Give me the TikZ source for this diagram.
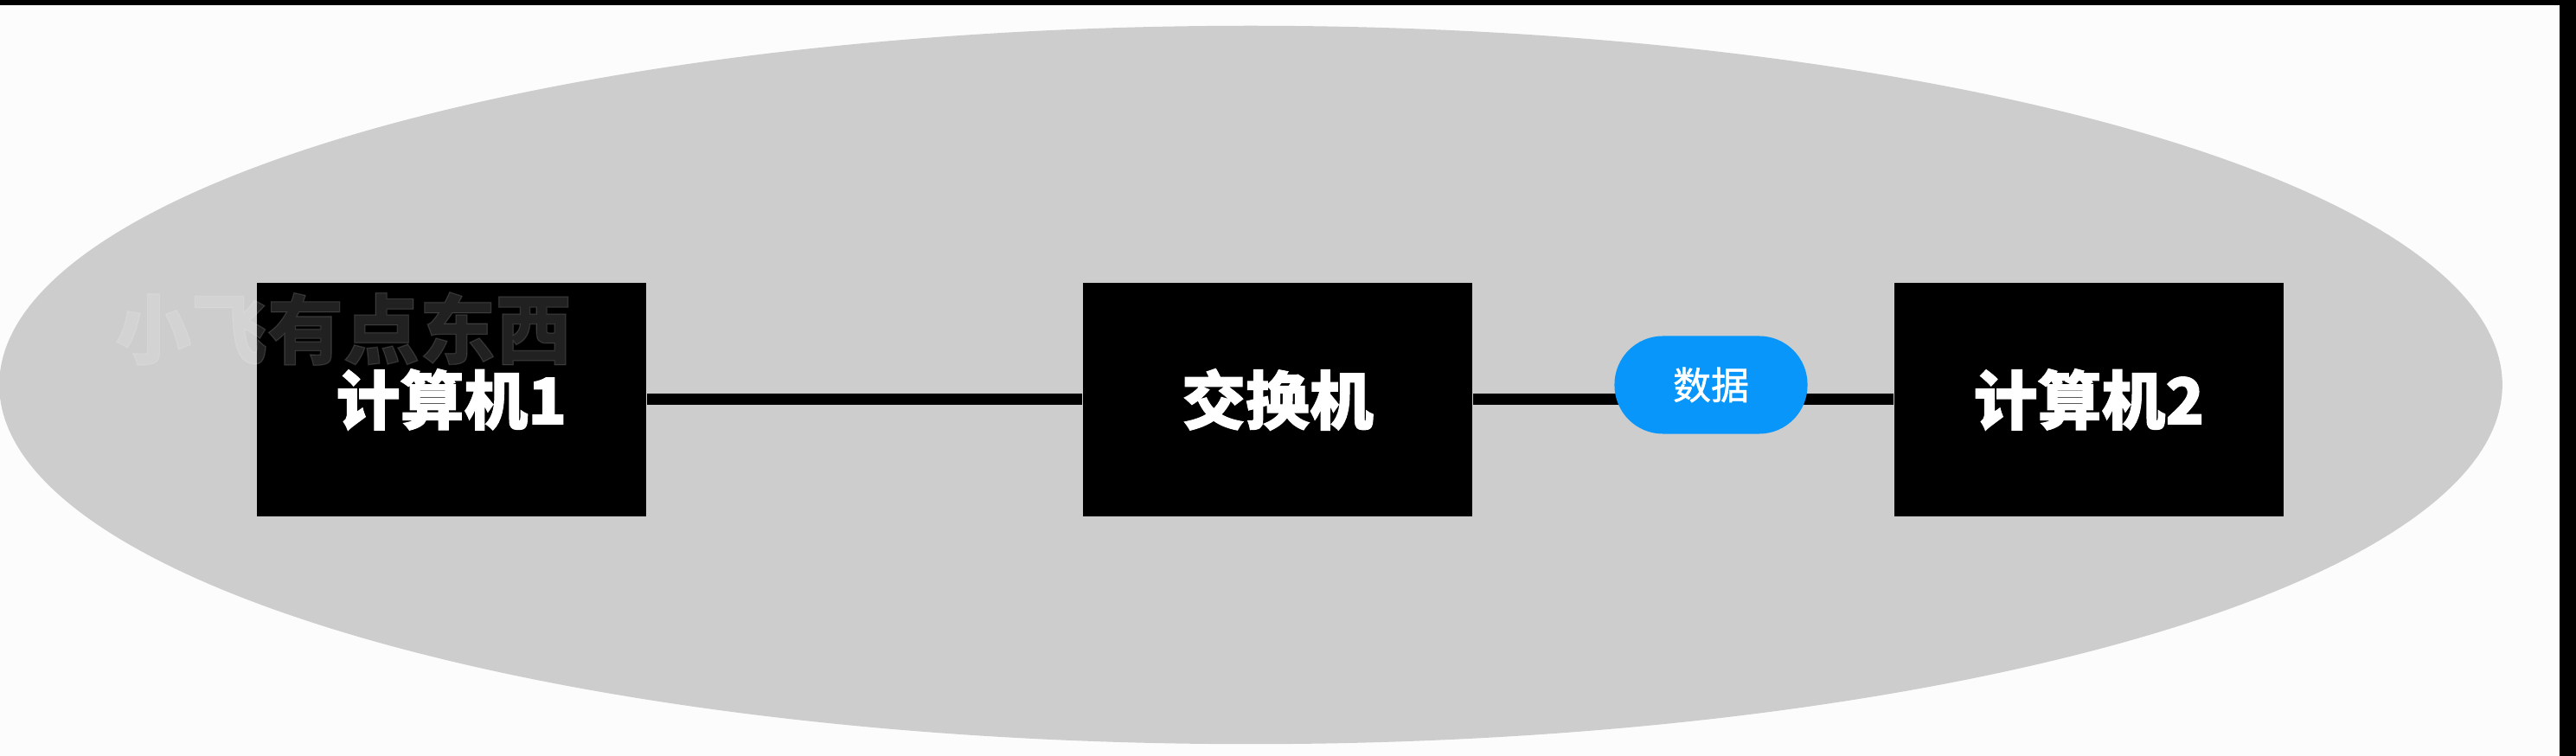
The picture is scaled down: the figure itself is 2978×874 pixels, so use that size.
\documentclass[tikz,border=0pt]{standalone}
\usepackage{fontspec}
\newfontfamily\cjk[BoldFeatures={FakeBold=1.5}]{Noto Sans CJK SC}
\newfontfamily\cjkmid[FakeBold=1.2]{Noto Sans CJK SC}
\definecolor{ovalgray}{RGB}{205,205,205}
\definecolor{tagblue}{RGB}{8,150,250}
\begin{document}
\begin{tikzpicture}[x=0.01cm,y=-0.01cm,
  machine/.style={fill=black,minimum width=4.5cm,minimum height=2.7cm,inner sep=0pt,
    text=white,font=\cjk\bfseries\fontsize{21pt}{23pt}\selectfont},
  tag/.style={fill=tagblue,rounded corners=0.56cm,minimum width=2.23cm,minimum height=1.13cm,
    inner sep=0pt,text=white,font=\cjkmid\fontsize{12.5pt}{14pt}\selectfont}]
\fill[white!99!black] (0,0) rectangle (2978,874);
\useasboundingbox (0,0) rectangle (2978,874);
\fill[ovalgray] (1446,445) ellipse (14.46cm and 4.15cm);
\fill[black] (0,0) rectangle (2978,6);
\fill[black] (2959,0) rectangle (2978,874);
\node[machine] (pc1) at (522,462) {计算机1};
\node[machine] (switch) at (1477,462) {交换机};
\node[machine] (pc2) at (2415,462) {计算机2};
\draw[line width=0.13cm] (pc1) -- (switch);
\draw[line width=0.13cm] (switch) -- (pc2);
\node[tag] (data) at (1978,445) {数据};
\node[opacity=0.13,text=white,font=\cjk\bfseries\fontsize{25pt}{27pt}\selectfont] (mark) at (397,380) {小飞有点东西};
\end{tikzpicture}
\end{document}
